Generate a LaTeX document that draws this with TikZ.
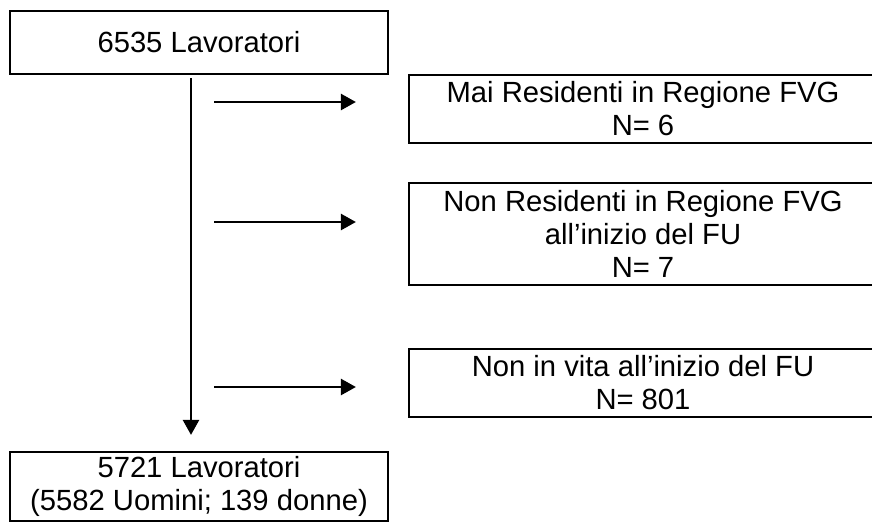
\documentclass[tikz,border=0pt]{standalone}
\usepackage{fontspec}
\setmainfont{Liberation Sans}
\usetikzlibrary{arrows.meta}
\begin{document}
\begin{tikzpicture}[x=1pt,y=-1pt,
  box/.style={draw=black, line width=2.2pt, rectangle, inner sep=0pt, align=center,
    font=\fontsize{29.2}{33}\selectfont},
  arr/.style={line width=2.5pt, -{Triangle[length=15pt,width=16pt]}}]
\useasboundingbox (0,0) rectangle (872,523);
\clip (0,0) rectangle (872,523);
\node[box, minimum width=378pt, minimum height=63pt] (top) at (199,42.5) {6535 Lavoratori};
\node[box, minimum width=378pt, minimum height=69pt] (bottom) at (199,486.5) {5721 Lavoratori\\(5582 Uomini; 139 donne)};
\node[box, minimum width=468pt, minimum height=68pt] (b1) at (643,109) {Mai Residenti in Regione FVG\\N= 6};
\node[box, minimum width=468pt, minimum height=102pt] (b2) at (643,234) {Non Residenti in Regione FVG\\all’inizio del FU\\N= 7};
\node[box, minimum width=468pt, minimum height=68pt] (b3) at (643,383) {Non in vita all’inizio del FU\\N= 801};
\draw[arr, shorten <=3pt, shorten >=16pt] ([xshift=-8pt]top.south) -- ([xshift=-8pt]bottom.north);
\coordinate (s1) at (214,102);
\coordinate (s2) at (214,222);
\coordinate (s3) at (214,387);
\draw[arr, shorten >=52pt] (s1) -- (s1 -| b1.west);
\draw[arr, shorten >=52pt] (s2) -- (s2 -| b2.west);
\draw[arr, shorten >=52pt] (s3) -- (s3 -| b3.west);
\end{tikzpicture}
\end{document}
